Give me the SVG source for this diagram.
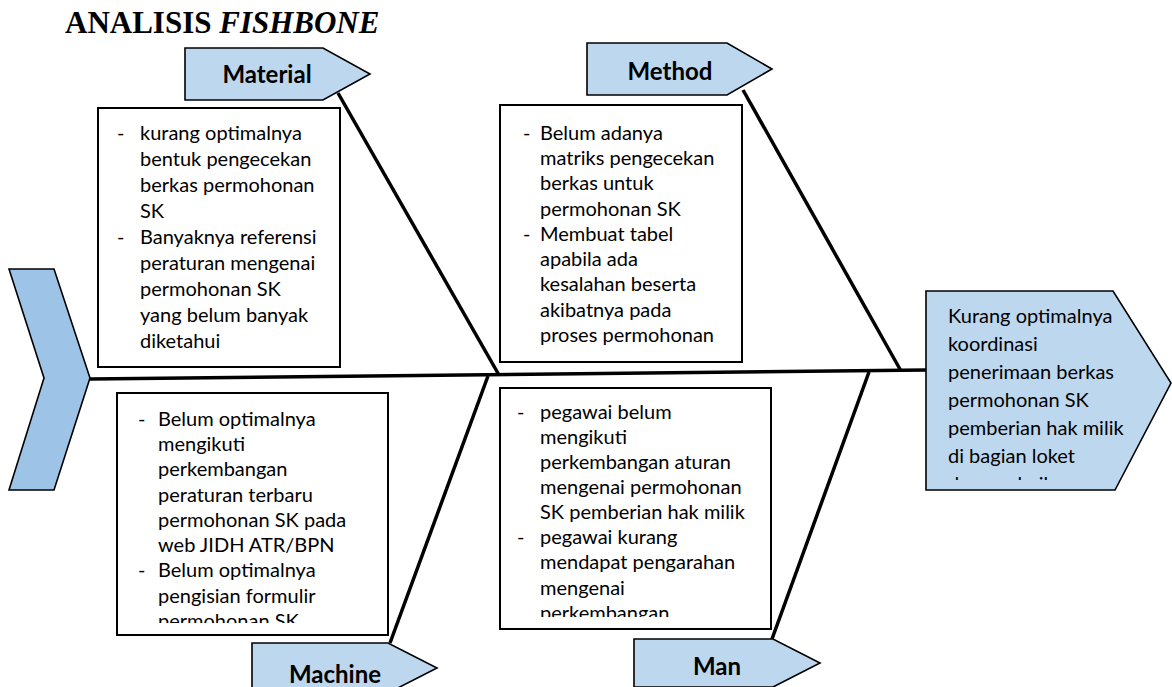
<svg xmlns="http://www.w3.org/2000/svg" width="1172" height="687" viewBox="0 0 1172 687">
<defs>
<style>
.title{font-family:"Liberation Serif","Times New Roman",serif;font-weight:bold;font-size:31px;fill:#000}
.lbl{fill:#BDD7EE;stroke:#000;stroke-width:1.6}
.lbltxt{font-family:Lato,"Open Sans",sans-serif;font-weight:bold;font-size:24px;fill:#000;text-anchor:middle}
.box{fill:#fff;stroke:#000;stroke-width:2}
.t{font-family:Lato,"Open Sans",sans-serif;font-size:20px;fill:#000}
.bone{stroke:#000;stroke-width:3.5;fill:none;stroke-linecap:butt}
</style>
<clipPath id="clipMachine"><rect x="117" y="393" width="271" height="230"/></clipPath>
<clipPath id="clipMan"><rect x="500" y="388" width="271" height="229"/></clipPath>
<clipPath id="clipEffect"><rect x="926" y="291" width="200" height="189"/></clipPath>
</defs>
<rect width="1172" height="687" fill="#fff"/>
<text class="title" x="65" y="33">ANALISIS <tspan font-style="italic">FISHBONE</tspan></text>

<g id="connectors">
<line class="bone" x1="90" y1="379" x2="926" y2="370"/>
<line class="bone" x1="338" y1="93" x2="499" y2="375"/>
<line class="bone" x1="743" y1="90" x2="901" y2="371"/>
<line class="bone" x1="488" y1="376" x2="390" y2="643"/>
<line class="bone" x1="869" y1="372" x2="772" y2="639"/>
</g>

<g id="head-chevron">
<polygon points="9,269 54,269 90,378 54,490 9,490 44,378" fill="#9DC3E6" stroke="#000" stroke-width="1.6"/>
</g>

<g id="label-material">
<polygon class="lbl" points="185,48 323,48 370,74 323,100 185,100"/>
<text class="lbltxt" x="267" y="83">Material</text>
</g>
<g id="label-method">
<polygon class="lbl" points="587,43 727,43 772,69 727,95 587,95"/>
<text class="lbltxt" x="670" y="80">Method</text>
</g>
<g id="label-machine">
<polygon class="lbl" points="252,643 388,643 437,668 388,693 252,693"/>
<text class="lbltxt" x="335" y="683">Machine</text>
</g>
<g id="label-man">
<polygon class="lbl" points="634,639 773,639 820,663 773,687 634,687"/>
<text class="lbltxt" x="717" y="675">Man</text>
</g>

<g id="box-material">
<rect class="box" x="98" y="108" width="242" height="259"/>
<g class="t">
<text x="117" y="140">-</text><text x="140" y="140">kurang optimalnya</text>
<text x="140" y="166">bentuk pengecekan</text>
<text x="140" y="192">berkas permohonan</text>
<text x="140" y="218">SK</text>
<text x="117" y="244">-</text><text x="140" y="244">Banyaknya referensi</text>
<text x="140" y="270">peraturan mengenai</text>
<text x="140" y="296">permohonan SK</text>
<text x="140" y="322">yang belum banyak</text>
<text x="140" y="348">diketahui</text>
</g>
</g>

<g id="box-method">
<rect class="box" x="500" y="105" width="242" height="257"/>
<g class="t">
<text x="523" y="140">-</text><text x="540" y="140">Belum adanya</text>
<text x="540" y="165">matriks pengecekan</text>
<text x="540" y="190">berkas untuk</text>
<text x="540" y="216">permohonan SK</text>
<text x="523" y="241">-</text><text x="540" y="241">Membuat tabel</text>
<text x="540" y="266">apabila ada</text>
<text x="540" y="291">kesalahan beserta</text>
<text x="540" y="317">akibatnya pada</text>
<text x="540" y="342">proses permohonan</text>
</g>
</g>

<g id="box-machine">
<rect class="box" x="117" y="393" width="271" height="242"/>
<g class="t" clip-path="url(#clipMachine)">
<text x="138" y="426">-</text><text x="158" y="426">Belum optimalnya</text>
<text x="158" y="451">mengikuti</text>
<text x="158" y="476">perkembangan</text>
<text x="158" y="502">peraturan terbaru</text>
<text x="158" y="527">permohonan SK pada</text>
<text x="158" y="552">web JIDH ATR/BPN</text>
<text x="138" y="577">-</text><text x="158" y="577">Belum optimalnya</text>
<text x="158" y="603">pengisian formulir</text>
<text x="158" y="628">permohonan SK</text>
</g>
</g>

<g id="box-man">
<rect class="box" x="500" y="388" width="271" height="241"/>
<g class="t" clip-path="url(#clipMan)">
<text x="517" y="419">-</text><text x="540" y="419">pegawai belum</text>
<text x="540" y="444">mengikuti</text>
<text x="540" y="469">perkembangan aturan</text>
<text x="540" y="494">mengenai permohonan</text>
<text x="540" y="519">SK pemberian hak milik</text>
<text x="517" y="544">-</text><text x="540" y="544">pegawai kurang</text>
<text x="540" y="569">mendapat pengarahan</text>
<text x="540" y="595">mengenai</text>
<text x="540" y="620">perkembangan</text>
</g>
</g>

<g id="effect">
<polygon points="926,291 1113,291 1171,383 1115,490 926,490" fill="#BDD7EE" stroke="#000" stroke-width="1.6"/>
<g class="t" clip-path="url(#clipEffect)">
<text x="948" y="323">Kurang optimalnya</text>
<text x="948" y="351">koordinasi</text>
<text x="948" y="379">penerimaan berkas</text>
<text x="948" y="407">permohonan SK</text>
<text x="948" y="435">pemberian hak milik</text>
<text x="948" y="463">di bagian loket</text>
<text x="948" y="491">dengan baik</text>
</g>
</g>
</svg>
